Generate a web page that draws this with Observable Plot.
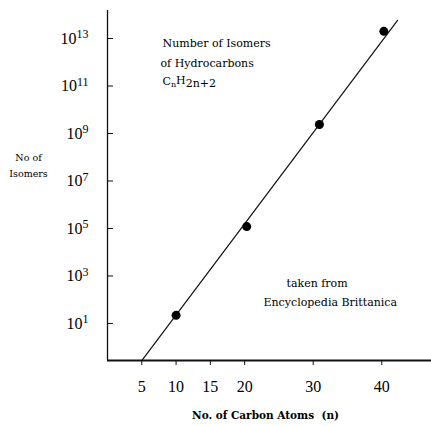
<!DOCTYPE html>
<html>
<head>
<meta charset="utf-8">
<script src="https://cdn.jsdelivr.net/npm/d3@7"></script>
<script src="https://cdn.jsdelivr.net/npm/@observablehq/plot@0.6"></script>
<style>
  html, body { margin: 0; padding: 0; background: #fff; }
  #chart svg { display: block; }
</style>
</head>
<body>
<div id="chart"></div>
<script>
// Data
const carbonAtoms = [10, 20.3, 30.9, 40.3];
const isomerCounts = [22, 1.2e5, 2.4e9, 2.0e13];

// Straight-line fit drawn on the chart (end points)
const fitCarbonAtoms = [5, 42.3];
const fitIsomerCounts = [0.275, 5.75e13];

// Axis ticks
const xTickValues = [5, 10, 15, 20, 30, 40];
const xTickLabels = ["5", "10", "15", "20", "30", "40"];
const yTickValues = [1e1, 1e3, 1e5, 1e7, 1e9, 1e11, 1e13];
const yTickExponents = ["1", "3", "5", "7", "9", "11", "13"];

// Domains
const xDomain = [0, 47.25];
const yDomain = [Math.pow(10, -0.56), Math.pow(10, 14.18)];

// Texts
const titleLines = ["Number of Isomers", "of Hydrocarbons"];
const formulaText = "CnH2n+2";
const sourceLines = ["taken from", "Encyclopedia Brittanica"];
const yTitle = "No of\nIsomers";
const xTitle = "No. of Carbon Atoms  (n)";

const points = carbonAtoms.map((n, i) => ({n, v: isomerCounts[i]}));
const fit = fitCarbonAtoms.map((n, i) => ({n, v: fitIsomerCounts[i]}));

const font = "Liberation Serif, Times New Roman, serif";
const annoFont = "DejaVu Serif, serif";

const yLabel = d => {
  const k = yTickValues.findIndex(v => Math.abs(Math.log10(v) - Math.log10(d)) < 1e-6);
  return k >= 0 ? yTickExponents[k] : "";
};
const xLabel = d => {
  const k = xTickValues.indexOf(d);
  return k >= 0 ? xTickLabels[k] : "";
};

const chart = Plot.plot({
  width: 431,
  height: 426,
  marginLeft: 107,
  marginRight: 0,
  marginTop: 10,
  marginBottom: 66,
  style: {fontFamily: font, background: "#fff", color: "#000", overflow: "visible"},
  x: {domain: xDomain, type: "linear"},
  y: {domain: yDomain, type: "log"},
  marks: [
    Plot.ruleX([xDomain[0]], {stroke: "#111", strokeWidth: 1.3}),
    Plot.ruleY([yDomain[0]], {stroke: "#111", strokeWidth: 1.8}),
    Plot.axisX({
      ticks: xTickValues,
      tickFormat: xLabel,
      tickSize: 5,
      tickPadding: 15,
      fontSize: 16,
      label: null,
      stroke: "#111"
    }),
    Plot.axisY({
      ticks: yTickValues,
      tickFormat: yLabel,
      tickSize: -6,
      tickPadding: 25,
      fontSize: 16,
      label: null,
      stroke: "#111"
    }),
    Plot.line(fit, {x: "n", y: "v", stroke: "#111", strokeWidth: 1.2}),
    Plot.dot(points, {x: "n", y: "v", r: 4.5, fill: "#000", stroke: "none"}),
    Plot.text([titleLines[0]], {
      frameAnchor: "top-left", dx: 55, dy: 33, fontSize: 11, fontFamily: annoFont,
      textAnchor: "start", lineAnchor: "middle"
    }),
    Plot.text([titleLines[1]], {
      frameAnchor: "top-left", dx: 53, dy: 53, fontSize: 11, fontFamily: annoFont,
      textAnchor: "start", lineAnchor: "middle"
    }),
    Plot.text([formulaText], {
      frameAnchor: "top-left", dx: 55, dy: 71, fontSize: 11, fontFamily: annoFont,
      textAnchor: "start", lineAnchor: "middle"
    }),
    Plot.text([yTitle], {
      frameAnchor: "top-left", dx: -79, dy: 153, fontSize: 9.5, fontFamily: annoFont,
      textAnchor: "middle", lineAnchor: "middle", lineHeight: 1.7
    }),
    Plot.text([xTitle], {
      frameAnchor: "bottom", dx: -4, dy: 55, fontSize: 10.5, fontWeight: "bold", fontFamily: annoFont,
      textAnchor: "middle", lineAnchor: "middle"
    }),
    Plot.text([sourceLines[0]], {
      frameAnchor: "top-left", dx: 179, dy: 273, fontSize: 11, fontFamily: annoFont,
      textAnchor: "start", lineAnchor: "middle"
    }),
    Plot.text([sourceLines[1]], {
      frameAnchor: "top-left", dx: 156, dy: 292, fontSize: 11, fontFamily: annoFont,
      textAnchor: "start", lineAnchor: "middle"
    })
  ]
});

document.getElementById("chart").appendChild(chart);
const svg = d3.select(chart);

// Superscript exponents for y tick labels
svg.selectAll('g[aria-label="y-axis tick label"] text').each(function() {
  const e = this.textContent;
  const s = d3.select(this);
  s.text("10");
  s.append("tspan").attr("dy", "-0.45em").attr("font-size", "12px").text(e);
});

// Subscripts for formula
svg.selectAll("text").each(function() {
  if (this.textContent === formulaText) {
    const s = d3.select(this);
    s.text("");
    s.append("tspan").text("C");
    s.append("tspan").attr("dy", "0.3em").attr("font-size", "8px").text("n");
    s.append("tspan").attr("dy", "-0.3em").text("H");
    s.append("tspan").attr("dy", "0.3em").text("2n+2");
  }
});
</script>
</body>
</html>
